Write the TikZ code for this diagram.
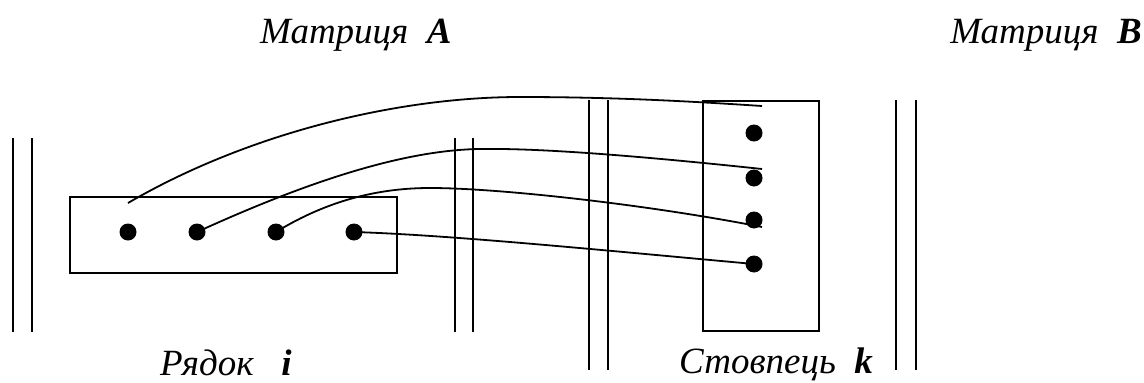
\documentclass[tikz,border=0pt]{standalone}
\usepackage{fontspec}
\setmainfont{Liberation Serif}
\begin{document}
\begin{tikzpicture}[x=1pt,y=-1pt,
  frame/.style={draw, line width=1.8pt},
  elem/.style={circle, fill=black, inner sep=0pt, minimum size=17pt},
  wire/.style={line width=1.8pt},
  rail/.style={line width=1.8pt},
  caption/.style={font=\fontsize{37}{40}\selectfont\itshape, inner sep=0pt}]
\useasboundingbox (0,0) rectangle (1144,383);

% boundaries of matrix A
\draw[rail] (13,138) -- (13,332);
\draw[rail] (32,138) -- (32,332);
\draw[rail] (455,138) -- (455,332);
\draw[rail] (473,138) -- (473,332);

% boundaries of matrix B
\draw[rail] (589,100) -- (589,370);
\draw[rail] (608,100) -- (608,370);
\draw[rail] (896,100) -- (896,370);
\draw[rail] (916,100) -- (916,370);

% row i of A and column k of B
\node[frame, minimum width=327pt, minimum height=76pt, inner sep=0pt] (row) at (233.5,235) {};
\node[frame, minimum width=116pt, minimum height=230pt, inner sep=0pt] (col) at (761,216) {};

% elements of the row
\node[elem] (a1) at (128,232) {};
\node[elem] (a2) at (197,232) {};
\node[elem] (a3) at (276,232) {};
\node[elem] (a4) at (354,232) {};

% elements of the column
\node[elem] (b1) at (754,133) {};
\node[elem] (b2) at (754,178) {};
\node[elem] (b3) at (754,220) {};
\node[elem] (b4) at (754,264) {};

% free ends of the links
\coordinate (s1) at (128,203);
\coordinate (e1) at (762,106);
\coordinate (e2) at (762,169);
\coordinate (e3) at (762,227);

% links between row and column elements
\draw[wire] (s1) .. controls (250,132) and (400,97) .. (520,97)
                 .. controls (620,97) and (700,102) .. (e1);
\draw[wire] (a2.center) .. controls (300,185) and (400,150) .. (480,149)
                 .. controls (540,148) and (640,156) .. (e2);
\draw[wire] (a3.center) .. controls (320,205) and (370,188) .. (430,188)
                 .. controls (500,188) and (650,205) .. (e3);
\draw[wire] (a4.center) .. controls (450,235) and (600,250) .. (b4.center);

% captions
\node[caption, anchor=base west] (ta) at (260,43) {Матриця\ \ \textbf{A}};
\node[caption, anchor=base east] (tb) at (1142,43) {Матриця\ \ \textbf{B}};
\node[caption, anchor=base west] (ti) at (160,375) {Рядок\ \ \ \textbf{i}};
\node[caption, anchor=base west] (tk) at (679,373) {Стовпець\ \ \textbf{k}};
\end{tikzpicture}
\end{document}
